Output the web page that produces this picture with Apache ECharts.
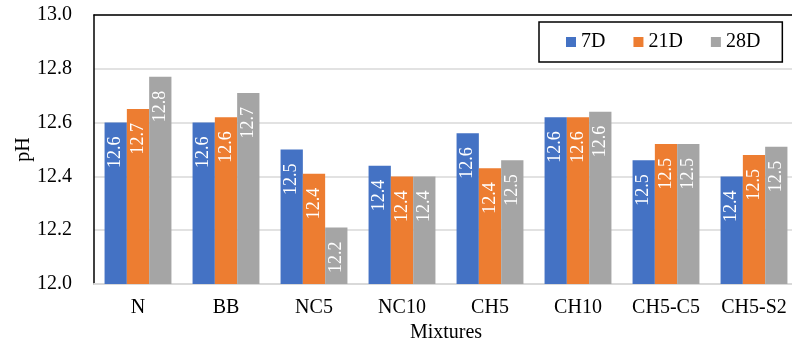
<!DOCTYPE html>
<html>
<head>
<meta charset="utf-8">
<script src="https://cdn.jsdelivr.net/npm/echarts@6/dist/echarts.min.js"></script>
<style>
html,body{margin:0;padding:0;background:#fff;}
#chart{width:792px;height:342px;}
</style>
</head>
<body>
<div id="chart"></div>
<script>
const categories = ['N', 'BB', 'NC5', 'NC10', 'CH5', 'CH10', 'CH5-C5', 'CH5-S2'];
const seriesNames = ['7D', '21D', '28D'];
const values7D  = [12.60, 12.60, 12.50, 12.44, 12.56, 12.62, 12.46, 12.40];
const values21D = [12.651, 12.62, 12.41, 12.40, 12.43, 12.62, 12.52, 12.48];
const values28D = [12.77, 12.71, 12.21, 12.40, 12.46, 12.64, 12.52, 12.51];
const yTicks = { min: 12.0, max: 13.0, interval: 0.2 };
const colors = ['#4472C4', '#ED7D31', '#A5A5A5'];

const FONT = 'Liberation Serif';
const allValues = [values7D, values21D, values28D];

const chart = echarts.init(document.getElementById('chart'), null, { renderer: 'canvas' });
chart.setOption({
  animation: false,
  backgroundColor: '#ffffff',
  color: colors,
  textStyle: { fontFamily: FONT },
  grid: { left: 94, top: 15, right: -6, bottom: 58, containLabel: false, outerBoundsMode: 'none' },
  legend: {
    data: seriesNames,
    left: 539, top: 22,
    padding: [10, 22, 10, 27],
    borderColor: '#000', borderWidth: 1.5,
    itemWidth: 10, itemHeight: 10, itemGap: 28,
    icon: 'rect',
    textStyle: { fontFamily: FONT, fontSize: 20, color: '#000' }
  },
  xAxis: [{
    type: 'category',
    data: categories,
    name: 'Mixtures',
    nameLocation: 'middle',
    nameGap: 36,
    nameTextStyle: { fontFamily: FONT, fontSize: 20, color: '#000' },
    axisLine: { lineStyle: { color: '#d9d9d9', width: 2 } },
    axisTick: { show: false },
    axisLabel: { fontFamily: FONT, fontSize: 20, color: '#000', margin: 14, interval: 0 }
  }, {
    type: 'category',
    data: categories,
    position: 'top',
    axisLine: { show: true, lineStyle: { color: '#000', width: 1.5 } },
    axisTick: { show: false },
    axisLabel: { show: false },
    splitLine: { show: false }
  }],
  yAxis: {
    type: 'value',
    min: yTicks.min, max: yTicks.max, interval: yTicks.interval,
    name: 'pH',
    nameLocation: 'middle',
    nameGap: 60,
    nameMoveOverlap: false,
    nameTextStyle: { fontFamily: FONT, fontSize: 20, color: '#000' },
    axisLine: { show: true, lineStyle: { color: '#000', width: 1.5 } },
    axisTick: { show: false },
    splitLine: { lineStyle: { color: '#d9d9d9', width: 1.5 } },
    axisLabel: {
      fontFamily: FONT, fontSize: 20, color: '#000', margin: 22,
      formatter: v => v.toFixed(1)
    }
  },
  series: seriesNames.map((name, i) => ({
    name: name,
    type: 'bar',
    data: allValues[i],
    barGap: '0%',
    barCategoryGap: '24%',
    itemStyle: { color: colors[i] },
    label: {
      show: true,
      position: 'insideTop',
      rotate: 90,
      align: 'right',
      verticalAlign: 'middle',
      distance: 14,
      color: '#fff',
      fontFamily: FONT,
      fontSize: 18,
      formatter: p => p.value.toFixed(1)
    }
  }))
});
</script>
</body>
</html>
